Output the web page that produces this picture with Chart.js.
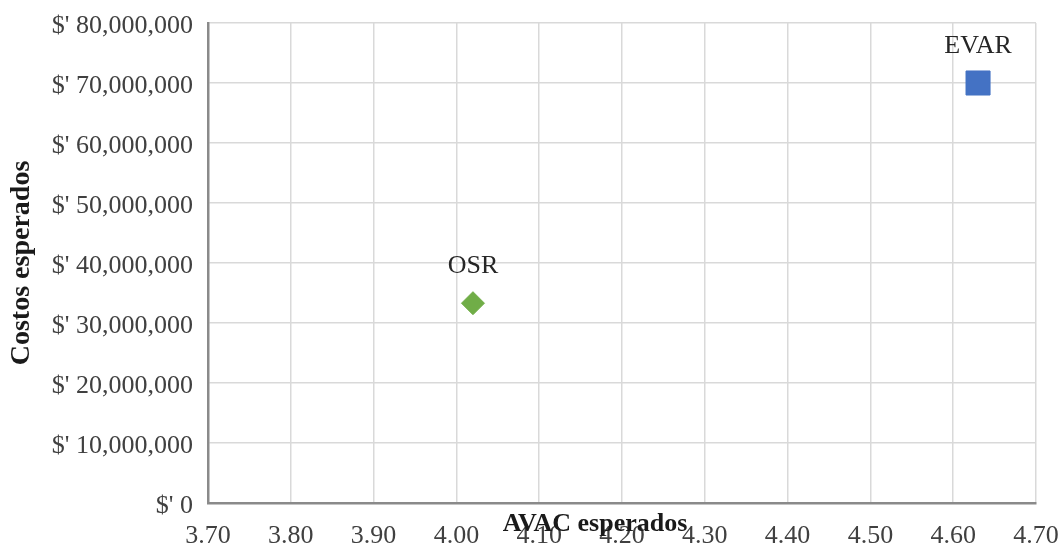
<!DOCTYPE html>
<html>
<head>
<meta charset="utf-8">
<script src="https://cdn.jsdelivr.net/npm/chart.js@4/dist/chart.umd.min.js"></script>
<style>
  html, body { margin: 0; padding: 0; background: #ffffff; }
  #wrap { width: 1062px; height: 544px; }
</style>
</head>
<body>
<div id="wrap"><canvas id="c" width="1062" height="544"></canvas></div>
<script>
// ---- data ----
const seriesNames = ["EVAR", "OSR"];
const avacValues = [4.63, 4.02];
const costValues = [70000000, 33300000];
const xTickValues = [3.70, 3.80, 3.90, 4.00, 4.10, 4.20, 4.30, 4.40, 4.50, 4.60, 4.70];
const yTickValues = [0, 10000000, 20000000, 30000000, 40000000, 50000000, 60000000, 70000000, 80000000];
const xTitle = "AVAC esperados";
const yTitle = "Costos esperados";

const serif = "'Liberation Serif', 'Times New Roman', serif";

const styles = [
  { color: "#4472C4", pointStyle: "rect", radius: 17 },
  { color: "#70AD47", pointStyle: "rectRot", radius: 11.5 }
];

const datasets = seriesNames.map((name, i) => ({
  label: name,
  data: [{ x: avacValues[i], y: costValues[i] }],
  backgroundColor: styles[i].color,
  borderColor: styles[i].color,
  borderWidth: 1,
  pointStyle: styles[i].pointStyle,
  pointRadius: styles[i].radius,
  pointHoverRadius: styles[i].radius
}));

const pointLabels = {
  id: "pointLabels",
  afterDatasetsDraw(chart) {
    const ctx = chart.ctx;
    ctx.save();
    ctx.font = "26px " + serif;
    ctx.fillStyle = "#262626";
    ctx.textAlign = "center";
    ctx.textBaseline = "alphabetic";
    chart.data.datasets.forEach((ds, i) => {
      const meta = chart.getDatasetMeta(i);
      meta.data.forEach(pt => {
        ctx.fillText(ds.label, pt.x, pt.y - 30);
      });
    });
    ctx.restore();
  }
};

const xAxisTitle = {
  id: "xAxisTitle",
  afterDraw(chart) {
    const ctx = chart.ctx;
    const a = chart.chartArea;
    ctx.save();
    ctx.font = "bold 26px " + serif;
    ctx.fillStyle = "#1a1a1a";
    ctx.textAlign = "center";
    ctx.textBaseline = "alphabetic";
    ctx.fillText(xTitle, a.left + (a.right - a.left) * 0.4674, a.bottom + 28);
    ctx.restore();
  }
};

new Chart(document.getElementById("c"), {
  type: "scatter",
  data: { datasets },
  plugins: [pointLabels, xAxisTitle],
  options: {
    responsive: false,
    animation: false,
    events: [],
    layout: { padding: { top: 23, right: 26, bottom: 0, left: 0 } },
    plugins: {
      legend: { display: false },
      tooltip: { enabled: false }
    },
    scales: {
      x: {
        type: "linear",
        min: xTickValues[0],
        max: xTickValues[xTickValues.length - 1],
        afterBuildTicks: s => { s.ticks = xTickValues.map(v => ({ value: v })); },
        afterFit: s => {
          s.height = 41;
          s.paddingLeft = 0; s.paddingRight = 0; s.paddingTop = 0; s.paddingBottom = 0;
        },
        grid: { color: "#d9d9d9", lineWidth: 1.5, drawTicks: false },
        border: { display: true, color: "#8a8a8a", width: 2.5 },
        ticks: {
          padding: 18,
          color: "#404040",
          font: { family: serif, size: 26 },
          maxRotation: 0,
          autoSkip: false,
          callback: v => Number(v).toFixed(2)
        }
      },
      y: {
        type: "linear",
        min: yTickValues[0],
        max: yTickValues[yTickValues.length - 1],
        afterBuildTicks: s => { s.ticks = yTickValues.map(v => ({ value: v })); },
        afterFit: s => {
          s.width = 208;
          s.paddingLeft = 0; s.paddingRight = 0; s.paddingTop = 0; s.paddingBottom = 0;
        },
        grid: { color: "#d9d9d9", lineWidth: 1.5, drawTicks: false },
        border: { display: true, color: "#8a8a8a", width: 2.5 },
        title: {
          display: true,
          text: yTitle,
          color: "#1a1a1a",
          font: { family: serif, size: 28, weight: "bold" },
          padding: { top: 5, bottom: 0 }
        },
        ticks: {
          padding: 15,
          labelOffset: 3,
          color: "#404040",
          font: { family: serif, size: 26 },
          autoSkip: false,
          callback: v => "$' " + Number(v).toLocaleString("en-US")
        }
      }
    }
  }
});
</script>
</body>
</html>
